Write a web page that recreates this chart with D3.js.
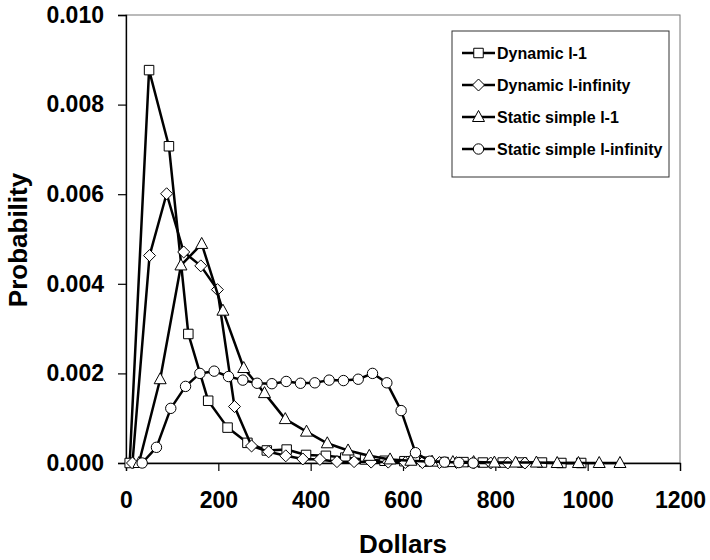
<!DOCTYPE html>
<html>
<head>
<meta charset="utf-8">
<script src="https://cdn.jsdelivr.net/npm/d3@7"></script>
<style>
  body { margin: 0; background: #fff; }
  svg { display: block; }
  text { font-family: "Liberation Sans", Arial, Helvetica, sans-serif; font-weight: bold; fill: #000; }
</style>
</head>
<body>
<svg id="chart" width="710" height="560"></svg>
<script>
// ---- data ----
const seriesNames = ["Dynamic l-1", "Dynamic l-infinity", "Static simple l-1", "Static simple l-infinity"];
const seriesMarkers = ["square", "diamond", "triangle", "circle"];

const dynL1X = [8, 50, 93, 135, 178, 220, 263, 305, 348, 390, 433, 475, 518, 560, 603, 646, 688, 731, 773, 816, 858, 901, 943, 986];
const dynL1Y = [0, 0.00877, 0.00707, 0.00288, 0.00139, 0.00079, 0.00045, 0.00028, 0.00030, 0.00018, 0.00016, 0.00012, 0.00008, 0.00005, 0.00004, 0.00003, 0.00002, 0.00002, 0.00001, 0.00001, 0.00001, 0.00001, 0, 0];

const dynLinfX = [14, 51, 88, 125, 162, 198, 235, 272, 309, 346, 383, 420, 457, 494, 531, 568, 605, 642, 679, 716, 753, 790, 827, 864];
const dynLinfY = [0, 0.00463, 0.00601, 0.00471, 0.00440, 0.00387, 0.00126, 0.00038, 0.00025, 0.00016, 0.00009, 0.00008, 0.00003, 0.00003, 0.00002, 0.00002, 0.00001, 0.00001, 0.00001, 0.00001, 0, 0, 0, 0];

const staL1X = [28, 74, 119, 164, 210, 255, 300, 345, 391, 436, 481, 527, 572, 617, 663, 708, 753, 798, 844, 889, 934, 980, 1025, 1070];
const staL1Y = [0, 0.00187, 0.00441, 0.00489, 0.00340, 0.00212, 0.00156, 0.00098, 0.00070, 0.00044, 0.00028, 0.00016, 0.00008, 0.00005, 0.00003, 0.00002, 0.00002, 0.00001, 0.00001, 0.00001, 0, 0, 0, 0];

const staLinfX = [35, 66, 97, 129, 160, 191, 222, 253, 284, 316, 347, 378, 409, 440, 471, 503, 534, 565, 596, 627, 658, 690, 721, 752];
const staLinfY = [0, 0.00035, 0.00122, 0.00171, 0.00200, 0.00205, 0.00193, 0.00185, 0.00178, 0.00177, 0.00182, 0.00178, 0.00179, 0.00185, 0.00184, 0.00187, 0.00200, 0.00179, 0.00117, 0.00023, 0.00004, 0.00002, 0.00001, 0];

const xTicks = [0, 200, 400, 600, 800, 1000, 1200];
const yTicks = [0, 0.002, 0.004, 0.006, 0.008, 0.010];
const xTitle = "Dollars";
const yTitle = "Probability";

// ---- layout ----
const svg = d3.select("#chart");
const pLeft = 126, pRight = 680, pTop = 15, pBottom = 463;

const x = d3.scaleLinear().domain([0, 1200]).range([pLeft, pRight]);
const y = d3.scaleLinear().domain([0, 0.010]).range([pBottom, pTop]);

// frame (top/right)
svg.append("rect")
  .attr("x", pLeft).attr("y", pTop)
  .attr("width", pRight - pLeft).attr("height", pBottom - pTop)
  .attr("fill", "none").attr("stroke", "#777").attr("stroke-width", 1);

// axes
const xAxis = d3.axisBottom(x).tickValues(xTicks).tickSize(8).tickPadding(20).tickFormat(d3.format("d"));
const gx = svg.append("g").attr("transform", `translate(0,${pBottom})`).call(xAxis);
gx.selectAll("text").style("font-size", "23px").attr("dy", "0.71em").attr("y", 29);

const yAxis = d3.axisLeft(y).tickValues(yTicks).tickSize(8).tickPadding(14).tickFormat(d3.format(".3f"));
const gy = svg.append("g").attr("transform", `translate(${pLeft},0)`).call(yAxis);
gy.selectAll("text").style("font-size", "23px");

[gx, gy].forEach(g => {
  g.select(".domain").attr("stroke", "#000").attr("stroke-width", 1.3);
  g.selectAll(".tick line").attr("stroke", "#000").attr("stroke-width", 1.2);
});

// titles
svg.append("text").attr("x", 403).attr("y", 553)
  .attr("text-anchor", "middle").style("font-size", "26px").text(xTitle);
svg.append("text").attr("transform", `translate(27,240) rotate(-90)`)
  .attr("text-anchor", "middle").style("font-size", "26px").text(yTitle);

// markers
function markerPath(type) {
  if (type === "square") return d3.symbol(d3.symbolSquare, 90)();
  if (type === "diamond") return "M0,-6L6,0L0,6L-6,0Z";
  if (type === "triangle") return "M0,-6.5L6,4.5L-6,4.5Z";
  return d3.symbol(d3.symbolCircle, 85)();
}

const allSeries = [
  { name: seriesNames[0], marker: seriesMarkers[0], xs: dynL1X, ys: dynL1Y },
  { name: seriesNames[1], marker: seriesMarkers[1], xs: dynLinfX, ys: dynLinfY },
  { name: seriesNames[2], marker: seriesMarkers[2], xs: staL1X, ys: staL1Y },
  { name: seriesNames[3], marker: seriesMarkers[3], xs: staLinfX, ys: staLinfY }
];

const line = d3.line().x(d => x(d[0])).y(d => y(d[1]));
const plot = svg.append("g");

allSeries.forEach(s => {
  const pts = s.xs.map((v, i) => [v, s.ys[i]]);
  const g = plot.append("g");
  g.append("path").datum(pts).attr("d", line)
    .attr("fill", "none").attr("stroke", "#000").attr("stroke-width", 2.5).attr("stroke-linejoin", "round");
  g.selectAll("path.m").data(pts).enter().append("path").attr("class", "m")
    .attr("transform", d => `translate(${x(d[0])},${y(d[1])})`)
    .attr("d", markerPath(s.marker))
    .attr("fill", "#fff").attr("stroke", "#000").attr("stroke-width", 1);
});

// legend
const lg = svg.append("g");
lg.append("rect").attr("x", 452).attr("y", 31).attr("width", 217).attr("height", 146)
  .attr("fill", "#fff").attr("stroke", "#333").attr("stroke-width", 1);
const legendY = d3.scalePoint().domain(seriesNames).range([53, 149]);
allSeries.forEach(s => {
  const cy = legendY(s.name);
  lg.append("line").attr("x1", 462).attr("x2", 495).attr("y1", cy).attr("y2", cy)
    .attr("stroke", "#000").attr("stroke-width", 2.5);
  lg.append("path").attr("transform", `translate(478.5,${cy})`).attr("d", markerPath(s.marker))
    .attr("fill", "#fff").attr("stroke", "#000").attr("stroke-width", 1);
  lg.append("text").attr("x", 497).attr("y", cy).attr("dy", "0.36em")
    .style("font-size", "16px").text(s.name);
});
</script>
</body>
</html>
